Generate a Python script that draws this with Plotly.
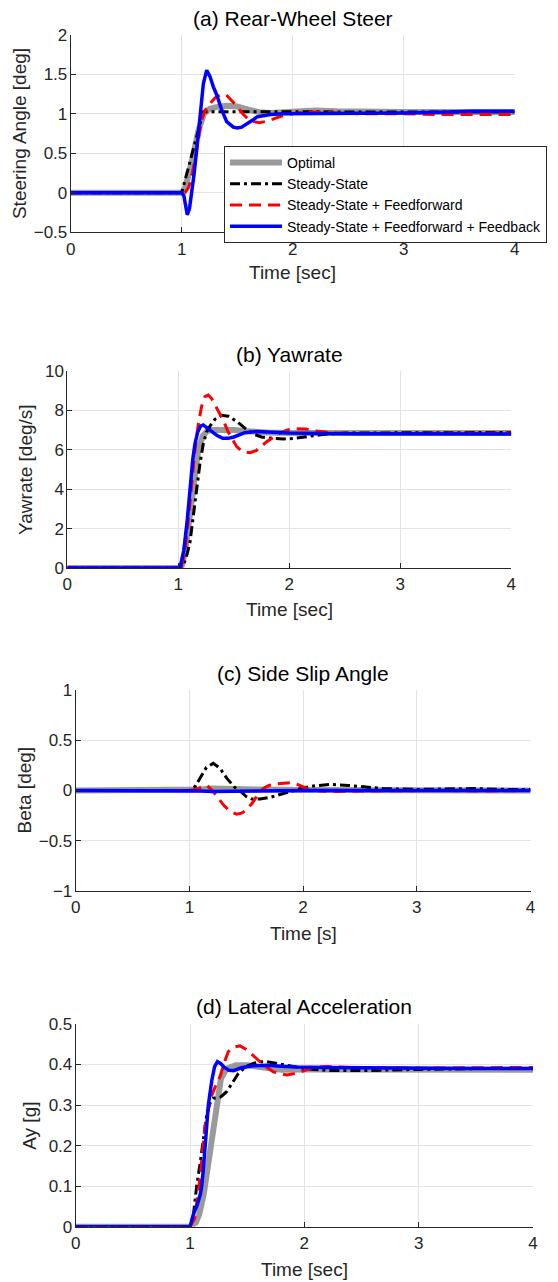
import plotly.graph_objects as go

# ---------------- data ----------------
# (a) rear-wheel steer angle [deg]
steer_opt_t = [0, 1.0, 1.03, 1.06, 1.1, 1.15, 1.2, 1.25, 1.3, 1.4, 1.5, 1.6, 1.7, 1.8, 2.0, 2.2, 2.4, 2.7, 3.0, 3.5, 4.0]
steer_opt = [0, 0, 0.05, 0.2, 0.45, 0.78, 1.0, 1.06, 1.08, 1.1, 1.09, 1.05, 1.02, 1.01, 1.02, 1.04, 1.03, 1.02, 1.02, 1.02, 1.02]
steer_ss_t = [0, 1.0, 1.195, 4.0]
steer_ss = [0, 0, 1.025, 1.02]
steer_ff_t = [0, 1.0, 1.03, 1.06, 1.09, 1.12, 1.15, 1.18, 1.21, 1.25, 1.3, 1.35, 1.4, 1.45, 1.5, 1.55, 1.6, 1.65, 1.7, 1.75, 1.8, 1.9, 2.0, 2.1, 2.2, 2.4, 2.6, 2.8, 3.0, 3.3, 3.6, 4.0]
steer_ff = [0, 0, 0.0, 0.06, 0.2, 0.42, 0.66, 0.92, 1.04, 1.12, 1.2, 1.24, 1.24, 1.17, 1.09, 1.0, 0.93, 0.9, 0.885, 0.9, 0.92, 0.97, 1.0, 1.02, 1.02, 1.01, 1.0, 1.0, 1.0, 0.99, 0.99, 0.99]
steer_fb_t = [0, 1.0, 1.02, 1.035, 1.05, 1.07, 1.09, 1.11, 1.135, 1.165, 1.195, 1.225, 1.255, 1.285, 1.315, 1.36, 1.405, 1.465, 1.5, 1.54, 1.59, 1.63, 1.68, 1.75, 1.8, 1.9, 2.0, 2.5, 3.0, 3.4, 3.6, 4.0]
steer_fb = [0, 0, -0.04, -0.17, -0.28, -0.2, 0.0, 0.22, 0.54, 1.0, 1.38, 1.55, 1.47, 1.34, 1.24, 1.05, 0.9, 0.83, 0.82, 0.83, 0.87, 0.91, 0.96, 0.98, 0.99, 1.0, 1.0, 1.0, 1.01, 1.02, 1.03, 1.03]

# (b) yaw rate [deg/s]
yaw_opt_t = [0, 1.0, 1.03, 1.06, 1.1, 1.14, 1.18, 1.22, 1.26, 1.3, 1.4, 1.5, 1.6, 1.7, 1.8, 2.0, 2.5, 3.0, 4.0]
yaw_opt = [0, 0, 0.1, 0.8, 2.5, 4.5, 6.0, 6.7, 6.95, 7.0, 7.02, 7.0, 6.95, 6.9, 6.88, 6.85, 6.85, 6.85, 6.85]
yaw_ss_t = [0, 1.0, 1.04, 1.07, 1.105, 1.135, 1.166, 1.195, 1.225, 1.255, 1.285, 1.33, 1.39, 1.45, 1.53, 1.6, 1.676, 1.75, 1.85, 1.95, 2.05, 2.19, 2.3, 2.5, 3.0, 3.5, 4.0]
yaw_ss = [0, 0, 0.1, 0.5, 1.3, 2.7, 4.1, 5.3, 6.3, 6.9, 7.2, 7.55, 7.75, 7.7, 7.43, 7.1, 6.8, 6.65, 6.58, 6.55, 6.58, 6.7, 6.78, 6.85, 6.85, 6.88, 6.88]
yaw_ff_t = [0, 1.0, 1.03, 1.06, 1.09, 1.12, 1.15, 1.18, 1.21, 1.24, 1.27, 1.3, 1.35, 1.405, 1.45, 1.526, 1.58, 1.646, 1.7, 1.796, 1.9, 1.977, 2.05, 2.15, 2.25, 2.4, 2.6, 3.0, 3.5, 4.0]
yaw_ff = [0, 0, 0.1, 0.8, 2.4, 4.3, 6.0, 7.3, 8.2, 8.7, 8.78, 8.6, 8.1, 7.5, 6.9, 6.16, 5.9, 5.85, 5.95, 6.41, 6.8, 7.0, 7.07, 7.05, 6.95, 6.85, 6.82, 6.83, 6.85, 6.85]
yaw_fb_t = [0, 1.0, 1.02, 1.05, 1.08, 1.105, 1.13, 1.15, 1.175, 1.2, 1.225, 1.25, 1.3, 1.35, 1.4, 1.45, 1.5, 1.6, 1.7, 1.8, 2.0, 2.5, 3.0, 3.5, 4.0]
yaw_fb = [0, 0, 0.1, 0.9, 2.4, 4.1, 5.5, 6.3, 6.9, 7.2, 7.26, 7.15, 6.95, 6.72, 6.58, 6.58, 6.65, 6.87, 6.93, 6.9, 6.85, 6.82, 6.8, 6.8, 6.8]

# (c) side slip angle [deg]
beta_opt_t = [0, 1.0, 1.1, 1.2, 1.4, 1.6, 2.0, 4.0]
beta_opt = [0, 0, 0.01, 0.02, 0.02, 0.01, 0.005, 0.0]
beta_ss_t = [0, 1.0, 1.05, 1.1, 1.15, 1.21, 1.27, 1.33, 1.4, 1.45, 1.5, 1.55, 1.62, 1.71, 1.8, 1.885, 2.0, 2.09, 2.24, 2.4, 2.5, 2.7, 3.0, 3.2, 3.5, 3.8, 4.0]
beta_ss = [0, 0, 0.04, 0.14, 0.23, 0.27, 0.22, 0.12, 0.03, -0.01, -0.06, -0.085, -0.085, -0.068, -0.04, -0.01, 0.025, 0.045, 0.06, 0.05, 0.04, 0.02, 0.01, 0.015, 0.02, 0.01, 0.01]
beta_ff_t = [0, 1.0, 1.08, 1.15, 1.21, 1.26, 1.3, 1.36, 1.416, 1.46, 1.504, 1.55, 1.592, 1.65, 1.7, 1.768, 1.885, 1.95, 2.03, 2.15, 2.3, 2.5, 2.8, 3.2, 3.6, 4.0]
beta_ff = [0, 0, 0.02, 0.055, -0.01, -0.09, -0.145, -0.21, -0.235, -0.225, -0.19, -0.13, -0.06, 0.02, 0.05, 0.065, 0.078, 0.06, 0.02, -0.005, -0.01, -0.005, 0.0, 0.0, -0.005, 0.0]
beta_fb_t = [0, 1.0, 1.1, 1.2, 1.4, 1.6, 1.8, 2.0, 4.0]
beta_fb = [0, 0, -0.005, -0.01, -0.01, -0.008, -0.003, 0.0, 0.0]

# (d) lateral acceleration [g]
ay_opt_t = [0, 1.0, 1.05, 1.08, 1.12, 1.15, 1.175, 1.2, 1.233, 1.27, 1.32, 1.4, 1.5, 1.6, 1.7, 1.8, 2.0, 2.5, 3.0, 4.0]
ay_opt = [0, 0, 0.01, 0.03, 0.08, 0.14, 0.193, 0.25, 0.317, 0.365, 0.39, 0.398, 0.398, 0.395, 0.39, 0.387, 0.388, 0.388, 0.388, 0.387]
ay_ss_t = [0, 1.0, 1.03, 1.058, 1.09, 1.12, 1.146, 1.175, 1.204, 1.233, 1.27, 1.32, 1.37, 1.423, 1.49, 1.554, 1.62, 1.671, 1.75, 1.875, 2.0, 2.225, 2.5, 3.0, 3.5, 4.0]
ay_ss = [0, 0, 0.03, 0.1, 0.16, 0.22, 0.276, 0.305, 0.317, 0.318, 0.32, 0.333, 0.355, 0.378, 0.395, 0.403, 0.407, 0.407, 0.403, 0.397, 0.39, 0.385, 0.385, 0.388, 0.39, 0.39]
ay_ff_t = [0, 1.0, 1.04, 1.087, 1.131, 1.175, 1.22, 1.262, 1.3, 1.335, 1.38, 1.437, 1.5, 1.583, 1.65, 1.729, 1.846, 1.95, 2.079, 2.2, 2.5, 3.0, 3.5, 4.0]
ay_ff = [0, 0, 0.02, 0.12, 0.247, 0.313, 0.345, 0.37, 0.405, 0.432, 0.443, 0.446, 0.436, 0.415, 0.397, 0.382, 0.374, 0.38, 0.393, 0.395, 0.392, 0.391, 0.392, 0.393]
ay_fb_t = [0, 1.0, 1.029, 1.064, 1.09, 1.102, 1.116, 1.131, 1.145, 1.16, 1.19, 1.215, 1.24, 1.27, 1.3, 1.34, 1.38, 1.45, 1.55, 1.67, 1.8, 1.93, 2.2, 2.5, 3.0, 3.5, 4.0]
ay_fb = [0, 0, 0.03, 0.055, 0.08, 0.1, 0.14, 0.193, 0.25, 0.3, 0.36, 0.395, 0.407, 0.402, 0.393, 0.386, 0.385, 0.392, 0.397, 0.398, 0.396, 0.394, 0.393, 0.392, 0.391, 0.39, 0.39]

series_names = ["Optimal", "Steady-State", "Steady-State + Feedforward",
                "Steady-State + Feedforward + Feedback"]

panel_titles = ["(a) Rear-Wheel Steer", "(b) Yawrate", "(c) Side Slip Angle",
                "(d) Lateral Acceleration"]
x_titles = ["Time [sec]", "Time [sec]", "Time [s]", "Time [sec]"]
y_titles = ["Steering Angle [deg]", "Yawrate [deg/s]", "Beta [deg]", "Ay [g]"]
y_ranges = [[-0.5, 2], [0, 10], [-1, 1], [0, 0.5]]
y_dticks = [0.5, 2, 0.5, 0.1]
x_ticks = [0, 1, 2, 3, 4]

panels = [
    [(steer_opt_t, steer_opt), (steer_ss_t, steer_ss), (steer_ff_t, steer_ff), (steer_fb_t, steer_fb)],
    [(yaw_opt_t, yaw_opt), (yaw_ss_t, yaw_ss), (yaw_ff_t, yaw_ff), (yaw_fb_t, yaw_fb)],
    [(beta_opt_t, beta_opt), (beta_ss_t, beta_ss), (beta_ff_t, beta_ff), (beta_fb_t, beta_fb)],
    [(ay_opt_t, ay_opt), (ay_ss_t, ay_ss), (ay_ff_t, ay_ff), (ay_fb_t, ay_fb)],
]

# ---------------- styling ----------------
W, H = 558, 1282
FONT = "Liberation Sans, Arial, Helvetica, sans-serif"
AX_COLOR = "#262626"
GRID = "#e3e3e3"

line_styles = [
    dict(color="#9a9a9a", width=6),
    dict(color="#000000", width=3, dash="10px,4px,3px,4px"),
    dict(color="#ff0000", width=3, dash="12px,7px"),
    dict(color="#0000ff", width=3.5),
]

# plot boxes in pixels: left, right, top, bottom
boxes = [
    (70.7, 514.7, 34.7, 232.2),
    (67.3, 511.3, 371.0, 568.0),
    (75.7, 530.5, 690.0, 891.0),
    (75.7, 533.0, 1024.0, 1226.7),
]
# title / axis-label positions in pixels
title_y = [18.3, 354.3, 673.3, 1006.7]
xlab_y = [273.0, 609.3, 933.3, 1269.3]
ylab_x = [19.6, 25.5, 24.0, 29.4]


def px(x):
    return x / W


def py(y):
    return 1 - y / H


fig = go.Figure()
layout = dict(
    width=W, height=H,
    margin=dict(l=0, r=0, t=0, b=0),
    paper_bgcolor="white", plot_bgcolor="white",
    font=dict(family=FONT, color=AX_COLOR),
    showlegend=True,
    legend=dict(
        x=px(224), y=py(146), xanchor="left", yanchor="top",
        bgcolor="white", bordercolor=AX_COLOR, borderwidth=1,
        font=dict(family=FONT, size=14, color="#000000"),
        itemwidth=52, tracegroupgap=0,
    ),
    annotations=[],
)

for i, (series, box) in enumerate(zip(panels, boxes)):
    l, r, t, b = box
    sfx = "" if i == 0 else str(i + 1)
    xa, ya = "x" + sfx, "y" + sfx
    for j, (tt, vv) in enumerate(series):
        fig.add_trace(go.Scatter(
            x=tt, y=vv, mode="lines", name=series_names[j],
            line=line_styles[j], xaxis=xa, yaxis=ya,
            legendgroup=series_names[j], showlegend=(i == 0),
            hoverinfo="skip",
        ))
    layout["xaxis" + sfx] = dict(
        domain=[px(l), px(r)], anchor=ya, range=[0, 4],
        tickmode="array", tickvals=x_ticks, ticktext=[str(v) for v in x_ticks],
        showgrid=True, gridcolor=GRID, gridwidth=1, zeroline=False,
        showline=True, linecolor=AX_COLOR, linewidth=1,
        ticks="inside", ticklen=5, tickcolor=AX_COLOR,
        tickfont=dict(family=FONT, size=17, color=AX_COLOR),
        ticklabelstandoff=1,
        automargin=False,
    )
    layout["yaxis" + sfx] = dict(
        domain=[py(b), py(t)], anchor=xa, range=y_ranges[i], dtick=y_dticks[i],
        showgrid=True, gridcolor=GRID, gridwidth=1, zeroline=False,
        showline=True, linecolor=AX_COLOR, linewidth=1,
        ticks="inside", ticklen=5, tickcolor=AX_COLOR,
        tickfont=dict(family=FONT, size=17, color=AX_COLOR),
        ticklabelstandoff=-1,
        automargin=False,
    )
    cx = (l + r) / 2
    layout["annotations"] += [
        dict(text=panel_titles[i], x=px(cx), y=py(title_y[i]), xref="paper", yref="paper",
             xanchor="center", yanchor="middle", showarrow=False,
             font=dict(family=FONT, size=21, color="#000000")),
        dict(text=x_titles[i], x=px(cx), y=py(xlab_y[i]), xref="paper", yref="paper",
             xanchor="center", yanchor="middle", showarrow=False,
             font=dict(family=FONT, size=19, color=AX_COLOR)),
        dict(text=y_titles[i], x=px(ylab_x[i]), y=py((t + b) / 2), xref="paper", yref="paper",
             xanchor="center", yanchor="middle", showarrow=False, textangle=-90,
             font=dict(family=FONT, size=19, color=AX_COLOR)),
    ]

fig.update_layout(**layout)
fig.write_html("out.html")
